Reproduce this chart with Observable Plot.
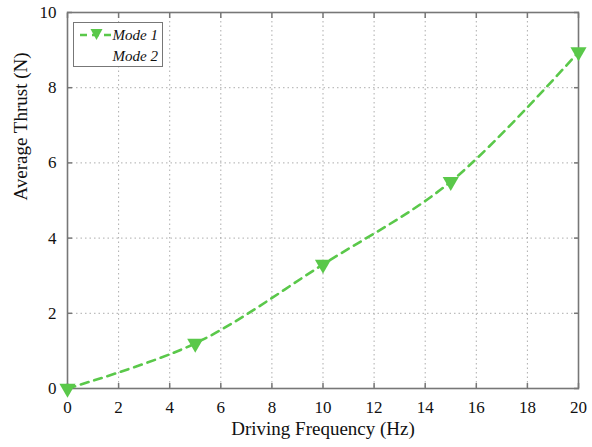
<!DOCTYPE html>
<html>
<head>
<meta charset="utf-8">
<script src="https://cdn.jsdelivr.net/npm/d3@7"></script>
<script src="https://cdn.jsdelivr.net/npm/@observablehq/plot@0.6"></script>
<style>
  body { margin: 0; background: #fff; }
  #wrap { position: relative; width: 592px; height: 447px; }
  #legend { position: absolute; left: 73px; top: 22px; width: 88px; height: 43px; border: 1.2px solid #777; background: #fff; }
</style>
</head>
<body>
<div id="wrap"></div>
<script>
const frequency = [0, 5, 10, 15, 20];
const thrustMode1 = [0.0, 1.2, 3.3, 5.5, 8.95];
const xTicks = [0, 2, 4, 6, 8, 10, 12, 14, 16, 18, 20];
const yTicks = [0, 2, 4, 6, 8, 10];
const seriesNames = ["Mode 1", "Mode 2"];

const data = frequency.map((f, i) => ({f, t: thrustMode1[i]}));
const green = "#5ac84a";
const noLabel = () => "";

const plot = Plot.plot({
  width: 592,
  height: 447,
  marginLeft: 67,
  marginRight: 14,
  marginTop: 12,
  marginBottom: 59,
  style: {fontFamily: "'Liberation Serif', serif", fontSize: "17px", color: "#111", background: "#fff"},
  x: {domain: [0, 20], ticks: xTicks, label: null},
  y: {domain: [0, 10], ticks: yTicks, label: null},
  marks: [
    Plot.gridX(xTicks, {stroke: "#999", strokeOpacity: 0.8, strokeDasharray: "1.5,3"}),
    Plot.gridY(yTicks, {stroke: "#999", strokeOpacity: 0.8, strokeDasharray: "1.5,3"}),
    Plot.axisX(xTicks, {anchor: "bottom", tickSize: 0, tickPadding: 12, fontSize: 17}),
    Plot.axisY(yTicks, {anchor: "left", tickSize: 0, tickPadding: 11, fontSize: 17}),
    Plot.axisX(xTicks, {anchor: "bottom", tickSize: -5, tickFormat: noLabel, stroke: "#777", strokeWidth: 1.5}),
    Plot.axisX(xTicks, {anchor: "top", tickSize: -5, tickFormat: noLabel, stroke: "#777", strokeWidth: 1.5}),
    Plot.axisY(yTicks, {anchor: "left", tickSize: -5, tickFormat: noLabel, stroke: "#777", strokeWidth: 1.5}),
    Plot.axisY(yTicks, {anchor: "right", tickSize: -5, tickFormat: noLabel, stroke: "#777", strokeWidth: 1.5}),
    Plot.frame({stroke: "#777", strokeWidth: 1.6}),
    Plot.line(data, {x: "f", y: "t", curve: "catmull-rom", stroke: green, strokeWidth: 2.6, strokeDasharray: "8,6"}),
    Plot.dot(data, {x: "f", y: "t", symbol: "triangle", r: 6, fill: green, stroke: "none", rotate: 180}),
    Plot.text(["Driving Frequency (Hz)"], {frameAnchor: "bottom", dy: 46, fontSize: 19, fill: "#111"}),
    Plot.text(["Average Thrust (N)"], {frameAnchor: "left", dx: -47, rotate: -90, fontSize: 19, fill: "#111"})
  ]
});

const wrap = document.getElementById("wrap");
wrap.appendChild(plot);

const legend = document.createElement("div");
legend.id = "legend";
legend.innerHTML = `
<svg width="88" height="43" style="position:absolute;left:0;top:0">
  <line x1="6" y1="12" x2="39" y2="12" stroke="${green}" stroke-width="2.6" stroke-dasharray="7,5"/>
  <path d="M16.5,6 L28.5,6 L22.5,17 Z" fill="${green}"/>
  <text x="84" y="17" text-anchor="end" font-family="Liberation Serif, serif" font-style="italic" font-size="15" fill="#111">${seriesNames[0]}</text>
  <text x="84" y="38" text-anchor="end" font-family="Liberation Serif, serif" font-style="italic" font-size="15" fill="#111">${seriesNames[1]}</text>
</svg>`;
wrap.appendChild(legend);
</script>
</body>
</html>
